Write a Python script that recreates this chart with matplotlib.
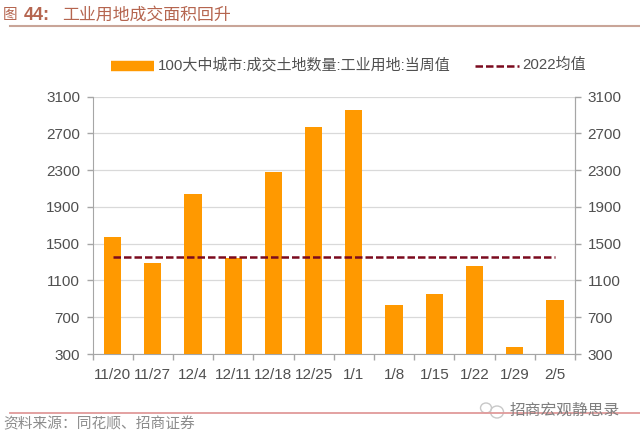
import matplotlib
matplotlib.use('Agg')
import matplotlib.pyplot as plt
from matplotlib.lines import Line2D
from matplotlib.patches import Ellipse

plt.rcParams['font.family'] = ['Liberation Sans', 'Noto Sans CJK SC', 'DejaVu Sans']

weeks = ['11/20', '11/27', '12/4', '12/11', '12/18', '12/25', '1/1', '1/8', '1/15', '1/22', '1/29', '2/5']
land_area = [1572, 1290, 2040, 1343, 2280, 2768, 2950, 833, 952, 1257, 376, 887]
avg_2022 = [1350] * 12
y_ticks = [300, 700, 1100, 1500, 1900, 2300, 2700, 3100]

bar_name = '100大中城市:成交土地数量:工业用地:当周值'
line_name = '2022均值'
title = '工业用地成交面积回升'
source = '资料来源：同花顺、招商证券'
watermark = '招商宏观静思录'

W, H = 640, 438
text_grey = '#505050'
fig = plt.figure(figsize=(W / 100, H / 100), dpi=100)
ax = fig.add_axes([92.5 / W, 1 - 354 / H, (575 - 92.5) / W, (354 - 96.5) / H])

x = list(range(len(weeks)))
ax.bar(x, land_area, width=0.43, color='#ff9900', zorder=3)
ax.plot(x, avg_2022, color='#7b0a1e', lw=1.8, dashes=(3, 1.2), zorder=4)

ax.set_xlim(-0.5, 11.5)
ax.set_ylim(300, 3100)
ax.set_yticks(y_ticks)
ax.set_xticks([i - 0.5 for i in range(13)])
ax.set_xticklabels([])
ax.set_xticks(x, minor=True)
ax.set_xticklabels(weeks, minor=True)
ax.tick_params(axis='x', which='minor', length=0, labelsize=11, labelcolor=text_grey, pad=10)
ax.tick_params(axis='x', which='major', length=4, color='#a6a6a6', width=1)
ax.tick_params(axis='y', length=4, color='#a6a6a6', width=1, labelsize=11, labelcolor=text_grey, pad=5)
ax.grid(axis='y', color='#d9d9d9', lw=0.9, zorder=0)
ax.spines['top'].set_visible(False)
for side in ['left', 'right', 'bottom']:
    ax.spines[side].set_color('#a6a6a6')

ax2 = ax.twinx()
ax2.set_ylim(300, 3100)
ax2.set_yticks(y_ticks)
ax2.tick_params(axis='y', length=4, color='#a6a6a6', width=1, labelsize=11, labelcolor=text_grey, pad=5)
for side in ['top', 'left', 'bottom']:
    ax2.spines[side].set_visible(False)
ax2.spines['right'].set_color('#a6a6a6')

# legend placed by hand, like the original
fig.add_artist(Line2D([111 / W, 154 / W], [1 - 66 / H] * 2, color='#ff9900', lw=7.5, solid_capstyle='butt'))
fig.text(158 / W, 1 - 65 / H, bar_name, fontsize=10.8, color=text_grey, va='center')
fig.add_artist(Line2D([475 / W, 519 / W], [1 - 66 / H] * 2, color='#7b0a1e', lw=1.8, dashes=(3, 1.2)))
fig.text(522 / W, 1 - 65 / H, line_name, fontsize=10.8, color=text_grey, va='center')

# header and footer
fig.text(3 / W, 1 - 15 / H, '图', fontsize=10.5, color='#b5654f', va='center')
fig.text(24 / W, 1 - 15 / H, '44:', fontsize=13, color='#b5654f', va='center', fontweight='bold')
fig.text(62 / W, 1 - 15 / H, title, fontsize=12.2, color='#b5654f', va='center')
fig.add_artist(Line2D([10 / W, 1], [1 - 25.5 / H] * 2, color='#c9a598', lw=1.5))
fig.add_artist(Line2D([10 / W, 1], [1 - 413 / H] * 2, color='#e09a9a', lw=1.3))
fig.text(3 / W, 1 - 424 / H, source, fontsize=10.6, color='#8c8c8c', va='center')

# watermark
for cx, cy, w, h in [(486, 408, 11, 10), (497, 412, 13, 12)]:
    fig.add_artist(Ellipse((cx / W, 1 - cy / H), w / W, h / H, fill=False, ec='#c8c8c8', lw=1, transform=fig.transFigure))
fig.text(510 / W, 1 - 410 / H, watermark, fontsize=11.3, color='#7f7f7f', va='center')

fig.savefig('out.png', dpi=100)
